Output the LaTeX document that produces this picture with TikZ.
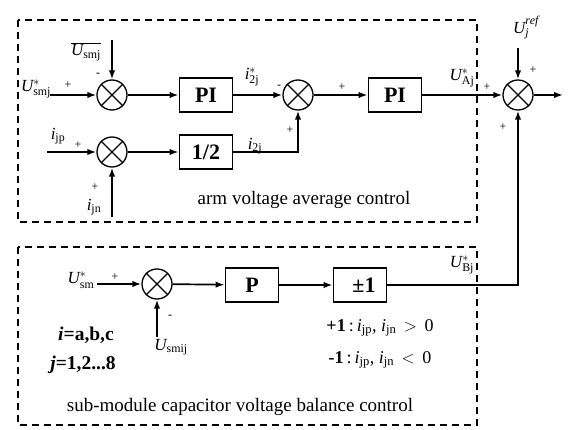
\documentclass[tikz,border=0pt]{standalone}
\usepackage{fontspec}
\setmainfont{Liberation Serif}
\usetikzlibrary{arrows.meta}
\newcommand\sumx[1]{\draw[line width=1.2pt] (#1.45)--(#1.225) (#1.135)--(#1.-45);}
\begin{document}
\begin{tikzpicture}[x=1pt,y=-1pt,
  line width=1.7pt,
  sumnode/.style={circle,draw,line width=1.3pt,minimum size=30pt,inner sep=0pt},
  blk/.style={draw,line width=1.9pt,minimum width=53pt,minimum height=34pt,inner sep=0pt,font=\fontsize{22}{24}\selectfont\bfseries},
  arr/.style={-{Latex[length=9pt,width=6.5pt]}},
  lab/.style={font=\fontsize{17}{19}\selectfont,inner sep=0pt},
  sgn/.style={font=\fontsize{12}{14}\selectfont,inner sep=0pt},
  dbox/.style={draw,line width=1.9pt,dash pattern=on 7pt off 5pt},
  captxt/.style={font=\fontsize{19}{21}\selectfont,inner sep=0pt},
  bnote/.style={font=\fontsize{19.5}{21}\selectfont\bfseries,inner sep=0pt},
  cnote/.style={font=\fontsize{18}{20}\selectfont,inner sep=0pt}
]
\useasboundingbox (0,0) rectangle (569,430);
% dashed frames
\draw[dbox] (18,20) rectangle (477,222);
\draw[dbox] (18,247) rectangle (477,425);
% blocks
\node[sumnode] (s1) at (112,95) {};
\node[blk] (pi1) at (206,95) {PI};
\node[sumnode] (s2) at (298,95) {};
\node[blk] (pi2) at (395,95) {PI};
\node[sumnode] (s3) at (518,95) {};
\node[sumnode] (s4) at (112,152) {};
\node[blk] (half) at (206,152) {1/2};
\node[sumnode] (s5) at (157,284) {};
\node[blk] (p) at (252,285) {P};
\node[blk] (pm) at (360,285) {\hspace{8pt}±1};
\sumx{s1}\sumx{s2}\sumx{s3}\sumx{s4}\sumx{s5}
% free ends
\coordinate (in1) at (50,95);
\coordinate (top1) at (112,40);
\coordinate (ref) at (518,48);
\coordinate (out) at (563,95);
\coordinate (in4) at (47,152);
\coordinate (bot4) at (112,217);
\coordinate (in5) at (97,284);
\coordinate (bot5) at (157,337);
% connectors
\draw[arr] (in1) -- (s1);
\draw[arr] (top1) -- (s1);
\draw[arr] (s1) -- (pi1);
\draw[arr] (pi1) -- (s2);
\draw[arr] (s2) -- (pi2);
\draw[arr] (pi2) -- (s3);
\draw[arr] (ref) -- (s3);
\draw[arr] (s3) -- (out);
\draw[arr] (in4) -- (s4);
\draw[arr] (bot4) -- (s4);
\draw[arr] (s4) -- (half);
\draw[arr] (half.east) -| (s2.south);
\draw[arr] (in5) -- (s5);
\draw[arr] (bot5) -- (s5);
\draw[arr] (s5) -- (p);
\draw[arr] (p) -- (pm);
\draw[arr] (pm.east) -| (s3.south);
% labels
\node[lab] (l1) at (36,89) {$\mathit{U}_{\mathrm{smj}}^{*}$};
\node[lab] (l2) at (86,52) {$\overline{\mathit{U}_{\mathrm{smj}}}$};
\node[lab] (l3) at (252,77) {$\mathit{i}_{\mathrm{2j}}^{*}$};
\node[lab] (l4) at (255,146) {$\mathit{i}_{\mathrm{2j}}$};
\node[lab] (l5) at (462,78) {$\mathit{U}_{\mathrm{Aj}}^{*}$};
\node[lab] (l6) at (526,28) {$\mathit{U}_{\mathit{j}}^{\mathit{ref}}$};
\node[lab] (l7) at (58,136) {$\mathit{i}_{\mathrm{jp}}$};
\node[lab] (l8) at (94,207) {$\mathit{i}_{\mathrm{jn}}$};
\node[lab] (l9) at (81,280) {$\mathit{U}_{\mathrm{sm}}^{*}$};
\node[lab] (l10) at (171,347) {$\mathit{U}_{\mathrm{smij}}$};
\node[lab] (l11) at (462,265) {$\mathit{U}_{\mathrm{Bj}}^{*}$};
% signs
\node[sgn] at (68,85) {+};
\node[sgn] at (98,75) {-};
\node[sgn] at (279,87) {-};
\node[sgn] at (290,130) {+};
\node[sgn] at (342,87) {+};
\node[sgn] at (487,87) {+};
\node[sgn] at (533,70) {+};
\node[sgn] at (503,127) {+};
\node[sgn] at (78,145) {+};
\node[sgn] at (95,187) {+};
\node[sgn] at (115,277) {+};
\node[sgn] at (170,317) {-};
% texts
\node[captxt] (c1) at (304,200) {arm voltage average control};
\node[captxt] (c2) at (240,407) {sub-module capacitor voltage balance control};
\node[bnote] (n1) at (86,335) {\textit{i}=a,b,c};
\node[bnote] (n2) at (83,365) {\textit{j}=1,2...8};
\node[cnote] (n3) at (380,328) {\textbf{+1}\,:\,$\mathit{i}_{\mathrm{jp}}$, $\mathit{i}_{\mathrm{jn}}$ \,$>$\, 0};
\node[cnote] (n4) at (380,360) {\textbf{-1}\,:\,$\mathit{i}_{\mathrm{jp}}$, $\mathit{i}_{\mathrm{jn}}$ \,$<$\, 0};
\end{tikzpicture}
\end{document}
